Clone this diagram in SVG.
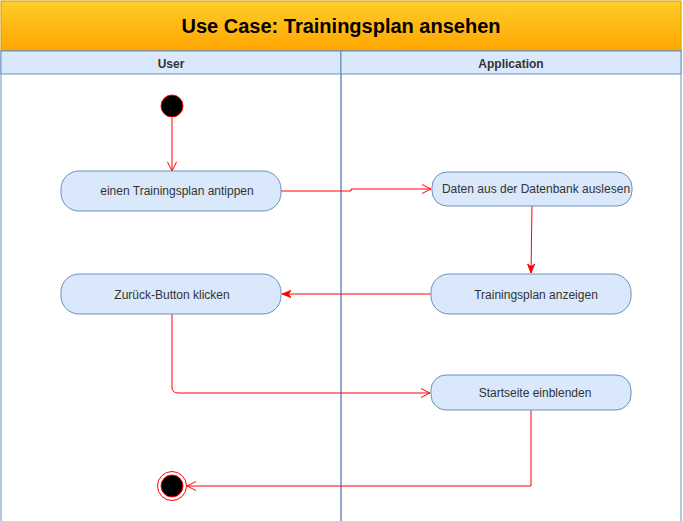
<svg xmlns="http://www.w3.org/2000/svg" width="683" height="521" viewBox="0 0 683 521">
<style>
.node rect{fill:#dae8fc;stroke:#6c8ebf;stroke-width:1}
.node text{font-family:"Liberation Sans",Arial,sans-serif;font-size:12px;fill:#333333;text-anchor:middle}
.hdr{font-family:"Liberation Sans",Arial,sans-serif;font-size:12px;font-weight:bold;fill:#333333;text-anchor:middle}
.conn path{fill:none;stroke:#ff0000;stroke-width:1}
</style>
<defs>
<linearGradient id="tg" x1="0" y1="0" x2="0" y2="1">
<stop offset="0" stop-color="#ffcd28"/>
<stop offset="1" stop-color="#ffa500"/>
</linearGradient>
<marker id="open" markerUnits="userSpaceOnUse" viewBox="0 0 10 10" refX="10" refY="5" markerWidth="10" markerHeight="10" orient="auto">
<path d="M1,0.5 L10,5 L1,9.5" fill="none" stroke="#ff0000" stroke-width="1"/>
</marker>
<marker id="block" markerUnits="userSpaceOnUse" viewBox="0 0 10 10" refX="10" refY="5" markerWidth="9" markerHeight="9" orient="auto">
<path d="M0,1 L10,5 L0,9 L3,5 Z" fill="#ff0000" stroke="#ff0000" stroke-width="1"/>
</marker>
</defs>
<rect x="0" y="0" width="683" height="521" fill="#ffffff"/>
<g id="pool">
<rect x="1" y="1" width="680" height="50" fill="url(#tg)" stroke="#d79b00"/>
<text x="341" y="33" font-family="Liberation Sans,Arial,sans-serif" font-size="20" font-weight="bold" fill="#000000" text-anchor="middle">Use Case: Trainingsplan ansehen</text>
</g>
<g id="lane-user">
<rect x="1" y="51" width="340" height="480" fill="none" stroke="#6c8ebf"/>
<rect x="1" y="51" width="340" height="23" fill="#dae8fc" stroke="#6c8ebf"/>
<text class="hdr" x="171" y="68">User</text>
</g>
<g id="lane-app">
<rect x="341" y="51" width="340" height="480" fill="none" stroke="#6c8ebf"/>
<rect x="341" y="51" width="340" height="23" fill="#dae8fc" stroke="#6c8ebf"/>
<text class="hdr" x="511" y="68">Application</text>
</g>
<g id="connectors" class="conn">
<path d="M172,118 V171" marker-end="url(#open)"/>
<path d="M281,191 H351 V189 H431" marker-end="url(#open)"/>
<path d="M532,206 L531,273" marker-end="url(#block)"/>
<path d="M431,294 H282" marker-end="url(#block)"/>
<path d="M172,314 V387 Q172,393 178,393 H430" marker-end="url(#open)"/>
<path d="M531,410 V486 H187" marker-end="url(#open)"/>
</g>
<g id="start">
<circle cx="172" cy="106" r="11" fill="#000000" stroke="#ff0000"/>
</g>
<g id="n1" class="node">
<rect x="61" y="171" width="220" height="40" rx="18"/>
<text x="177" y="195">einen Trainingsplan antippen</text>
</g>
<g id="n2" class="node">
<rect x="432" y="172" width="200" height="34" rx="15"/>
<text x="536" y="193">Daten aus der Datenbank auslesen</text>
</g>
<g id="n3" class="node">
<rect x="431" y="274" width="200" height="40" rx="18"/>
<text x="536" y="299">Trainingsplan anzeigen</text>
</g>
<g id="n4" class="node">
<rect x="61" y="274" width="220" height="40" rx="18"/>
<text x="172" y="299">Zurück-Button klicken</text>
</g>
<g id="n5" class="node">
<rect x="431" y="375" width="200" height="35" rx="15"/>
<text x="535" y="397">Startseite einblenden</text>
</g>
<g id="end">
<circle cx="172" cy="486" r="14.5" fill="#ffffff" stroke="#ff0000"/>
<circle cx="172" cy="486" r="11" fill="#000000" stroke="#ff0000"/>
</g>
</svg>
